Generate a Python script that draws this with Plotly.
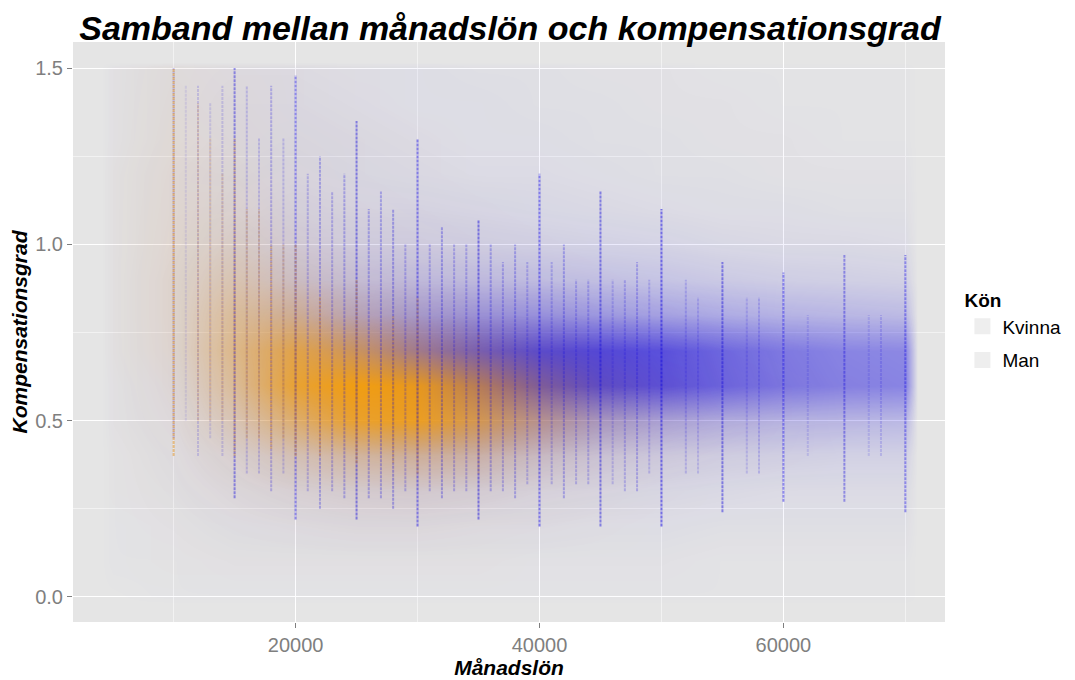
import plotly.graph_objects as go

# salary grid (cell centres) and compensation grid for the density
salary_grid = [4000, 5000, 10000, 15000, 20000, 25000, 30000, 35000, 40000, 45000,
               50000, 55000, 60000, 65000, 70000, 71000]
comp_grid = [-0.02, 0.0, 0.1, 0.2, 0.3, 0.4, 0.5, 0.6, 0.7, 0.8, 0.9, 1.0, 1.1, 1.2,
             1.3, 1.4, 1.5, 1.52]

# estimated point density, one row per comp_grid value (0 = empty, 1 = saturated)
density_man = [
    [0, 0.00, .00, .00, .00, .00, .00, .00, .00, .00, .00, .00, .00, .00, .00, 0],
    [0, 0.00, .01, .01, .01, .01, .01, .01, .01, .01, .01, .01, .01, .01, .01, 0],
    [0, 0.01, .01, .02, .02, .02, .02, .02, .02, .02, .02, .01, .01, .01, .01, 0],
    [0, 0.01, .02, .04, .05, .06, .06, .05, .05, .04, .04, .03, .03, .03, .03, 0],
    [0, 0.01, .03, .06, .09, .11, .12, .11, .09, .08, .07, .06, .05, .05, .05, 0],
    [0, 0.01, .04, .09, .15, .20, .24, .24, .20, .17, .14, .12, .11, .10, .10, 0],
    [0, 0.02, .05, .12, .22, .34, .45, .50, .48, .42, .36, .30, .26, .24, .23, 0],
    [0, 0.02, .06, .14, .30, .52, .72, .85, .88, .86, .80, .68, .58, .52, .50, 0],
    [0, 0.02, .06, .15, .32, .52, .68, .80, .85, .84, .78, .66, .56, .50, .48, 0],
    [0, 0.02, .06, .14, .26, .34, .40, .44, .44, .40, .35, .30, .26, .24, .22, 0],
    [0, 0.02, .06, .12, .18, .20, .22, .22, .21, .19, .17, .14, .12, .11, .10, 0],
    [0, 0.02, .05, .10, .13, .13, .13, .12, .11, .10, .09, .07, .06, .06, .05, 0],
    [0, 0.02, .05, .08, .10, .09, .09, .08, .07, .06, .05, .04, .04, .03, .03, 0],
    [0, 0.02, .05, .07, .08, .07, .06, .05, .05, .04, .03, .03, .02, .02, .02, 0],
    [0, 0.02, .04, .06, .07, .06, .05, .04, .04, .03, .03, .02, .02, .01, .01, 0],
    [0, 0.02, .04, .06, .06, .05, .04, .04, .03, .03, .02, .02, .01, .01, .01, 0],
    [0, 0.02, .04, .05, .05, .04, .04, .03, .03, .02, .02, .01, .01, .01, .01, 0],
    [0, 0.00, .00, .00, .00, .00, .00, .00, .00, .00, .00, .00, .00, .00, .00, 0],
]
density_kvinna = [
    [0, 0.00, .00, .00, .00, .00, .00, .00, .00, .00, .00, .00, .00, .00, .00, 0],
    [0, 0.00, .00, .00, .00, .00, .00, .00, .00, .00, .00, .00, .00, .00, .00, 0],
    [0, 0.00, .01, .01, .01, .01, .01, .01, .00, .00, .00, .00, .00, .00, .00, 0],
    [0, 0.00, .01, .02, .03, .04, .04, .03, .02, .01, .00, .00, .00, .00, .00, 0],
    [0, 0.01, .02, .05, .08, .10, .10, .08, .05, .03, .01, .00, .00, .00, .00, 0],
    [0, 0.01, .03, .10, .22, .32, .35, .28, .16, .08, .04, .02, .01, .00, .00, 0],
    [0, 0.01, .05, .22, .55, .85, .90, .68, .40, .18, .08, .04, .02, .01, .00, 0],
    [0, 0.01, .07, .35, .82, .98, .92, .65, .35, .15, .07, .03, .02, .01, .00, 0],
    [0, 0.02, .10, .42, .72, .62, .42, .25, .12, .06, .03, .02, .01, .00, .00, 0],
    [0, 0.02, .11, .35, .38, .22, .13, .07, .04, .02, .01, .00, .00, .00, .00, 0],
    [0, 0.02, .11, .24, .16, .08, .05, .03, .02, .01, .00, .00, .00, .00, .00, 0],
    [0, 0.02, .10, .15, .08, .04, .03, .02, .01, .00, .00, .00, .00, .00, .00, 0],
    [0, 0.02, .09, .10, .05, .03, .02, .01, .00, .00, .00, .00, .00, .00, .00, 0],
    [0, 0.02, .08, .07, .04, .02, .01, .00, .00, .00, .00, .00, .00, .00, .00, 0],
    [0, 0.01, .07, .05, .03, .02, .01, .00, .00, .00, .00, .00, .00, .00, .00, 0],
    [0, 0.01, .06, .04, .02, .01, .00, .00, .00, .00, .00, .00, .00, .00, .00, 0],
    [0, 0.01, .05, .03, .02, .01, .00, .00, .00, .00, .00, .00, .00, .00, .00, 0],
    [0, 0.00, .00, .00, .00, .00, .00, .00, .00, .00, .00, .00, .00, .00, .00, 0],
]

# round salaries that show up as vertical stripes: salary, top, bottom, strength
man_stripe_salary = [10000, 11000, 12000, 13000, 14000, 15000, 16000, 17000, 18000, 19000,
                     20000, 21000, 22000, 23000, 24000, 25000, 26000, 27000, 28000, 29000,
                     30000, 31000, 32000, 33000, 34000, 35000, 36000, 37000, 38000, 39000,
                     40000, 41000, 42000, 43000, 44000, 45000, 46000, 47000, 48000, 49000,
                     50000, 52000, 53000, 55000, 57000, 58000, 60000, 62000, 65000, 67000,
                     68000, 70000]
man_stripe_top = [1.50, 1.45, 1.45, 1.40, 1.45, 1.50, 1.45, 1.30, 1.45, 1.30,
                  1.48, 1.20, 1.25, 1.15, 1.20, 1.35, 1.10, 1.15, 1.10, 1.00,
                  1.30, 1.00, 1.05, 1.00, 1.00, 1.07, 1.00, 0.95, 1.00, 0.95,
                  1.20, 0.95, 1.00, 0.90, 0.90, 1.15, 0.90, 0.90, 0.95, 0.90,
                  1.10, 0.90, 0.85, 0.95, 0.85, 0.85, 0.92, 0.80, 0.97, 0.80,
                  0.80, 0.97]
man_stripe_bottom = [0.45, 0.50, 0.40, 0.45, 0.40, 0.28, 0.35, 0.35, 0.30, 0.35,
                     0.22, 0.30, 0.25, 0.30, 0.28, 0.22, 0.28, 0.28, 0.25, 0.30,
                     0.20, 0.30, 0.28, 0.30, 0.30, 0.22, 0.30, 0.30, 0.28, 0.32,
                     0.20, 0.32, 0.28, 0.32, 0.32, 0.20, 0.32, 0.30, 0.30, 0.35,
                     0.20, 0.35, 0.35, 0.24, 0.35, 0.35, 0.27, 0.40, 0.27, 0.40,
                     0.40, 0.24]
man_stripe_strength = [0.35, 0.15, 0.25, 0.20, 0.25, 0.70, 0.30, 0.30, 0.40, 0.30,
                       0.75, 0.35, 0.45, 0.40, 0.45, 0.75, 0.45, 0.45, 0.50, 0.40,
                       0.80, 0.40, 0.50, 0.40, 0.40, 0.80, 0.45, 0.40, 0.45, 0.35,
                       0.85, 0.35, 0.45, 0.35, 0.35, 0.75, 0.30, 0.35, 0.40, 0.30,
                       0.90, 0.30, 0.25, 0.75, 0.25, 0.30, 0.75, 0.20, 0.65, 0.20,
                       0.25, 0.70]

kvinna_stripe_salary = [10000, 12000, 13000, 14000, 15000, 16000, 17000, 18000, 19000,
                        20000, 22000, 25000, 28000, 30000, 35000]
kvinna_stripe_top = [1.50, 1.40, 1.30, 1.20, 1.30, 1.10, 1.10, 1.00, 1.00,
                     1.00, 0.85, 0.90, 0.80, 0.85, 0.75]
kvinna_stripe_bottom = [0.40, 0.50, 0.50, 0.50, 0.40, 0.45, 0.45, 0.42, 0.45,
                        0.40, 0.40, 0.38, 0.38, 0.35, 0.35]
kvinna_stripe_strength = [0.80, 0.30, 0.30, 0.30, 0.50, 0.40, 0.40, 0.50, 0.40,
                          0.60, 0.50, 0.55, 0.40, 0.50, 0.40]

x_tick_vals = [20000, 40000, 60000]
x_tick_text = ['20000', '40000', '60000']
y_tick_vals = [0.0, 0.5, 1.0, 1.5]
y_tick_text = ['0.0', '0.5', '1.0', '1.5']

FONT = 'Liberation Sans, Arial, sans-serif'

fig = go.Figure()

fig.add_trace(go.Heatmap(
    x=salary_grid, y=comp_grid, z=density_man, zmin=0, zmax=1, zsmooth='best',
    colorscale=[[0, 'rgba(35,25,225,0)'], [1, 'rgba(35,25,225,0.95)']],
    showscale=False, hoverinfo='skip'))

for s, top, bot, st in zip(man_stripe_salary, man_stripe_top, man_stripe_bottom, man_stripe_strength):
    fig.add_trace(go.Scatter(x=[s, s], y=[bot, top], mode='lines',
                             line=dict(color=f'rgba(20,10,220,{0.6 * st:.3f})', width=2,
                                       dash='3px,1px'),
                             showlegend=False, hoverinfo='skip'))

fig.add_trace(go.Heatmap(
    x=salary_grid, y=comp_grid, z=density_kvinna, zmin=0, zmax=1, zsmooth='best',
    colorscale=[[0, 'rgba(250,160,0,0)'], [1, 'rgba(250,160,0,0.95)']],
    showscale=False, hoverinfo='skip'))

for s, top, bot, st in zip(kvinna_stripe_salary, kvinna_stripe_top, kvinna_stripe_bottom, kvinna_stripe_strength):
    fig.add_trace(go.Scatter(x=[s, s], y=[bot, top], mode='lines',
                             line=dict(color=f'rgba(225,135,0,{0.55 * st:.3f})', width=2,
                                       dash='3px,1px'),
                             showlegend=False, hoverinfo='skip'))

# legend keys (almost invisible points on grey boxes, like the original)
for name in ['Kvinna', 'Man']:
    fig.add_trace(go.Scatter(x=[None], y=[None], mode='markers', name=name, legendgroup=name,
                             marker=dict(symbol='square', size=16, color='#EEEEEE')))

# the page body adds an 8px offset, so the margins are shifted to compensate
fig.update_layout(
    width=1075, height=680,
    margin=dict(l=65, r=138, t=34, b=66),
    paper_bgcolor='white', plot_bgcolor='#E5E5E5',
    font=dict(family=FONT, color='#7F7F7F'),
    title=dict(text='<b><i>Samband mellan månadslön och kompensationsgrad</i></b>',
               x=0.467, xanchor='center', y=0.97, yanchor='middle',
               font=dict(size=34, color='black', family=FONT)),
    legend=dict(title=dict(text='<b>Kön</b>', font=dict(size=19, color='black')),
                font=dict(size=19, color='black'),
                x=1.02, xanchor='left', y=0.585, yanchor='top',
                bgcolor='rgba(0,0,0,0)', itemsizing='trace', tracegroupgap=6),
)

fig.update_xaxes(
    range=[1750, 73250], tickvals=x_tick_vals, ticktext=x_tick_text, automargin=False,
    showgrid=True, gridcolor='white', gridwidth=1.3, zeroline=False, showline=False,
    ticks='outside', ticklen=5, tickcolor='#7F7F7F', tickfont=dict(size=20, color='#7F7F7F'),
    minor=dict(tickvals=[10000, 30000, 50000, 70000], showgrid=True, gridcolor='#F2F2F2',
               gridwidth=0.7, ticks=''),
    title=dict(text='<b><i>Månadslön</i></b>', font=dict(size=21, color='black'), standoff=2),
)
fig.update_yaxes(
    range=[-0.071, 1.574], tickvals=y_tick_vals, ticktext=y_tick_text, automargin=False,
    showgrid=True, gridcolor='white', gridwidth=1.3, zeroline=False, showline=False,
    ticks='outside', ticklen=5, tickcolor='#7F7F7F', tickfont=dict(size=20, color='#7F7F7F'),
    minor=dict(tickvals=[0.25, 0.75, 1.25], showgrid=True, gridcolor='#F2F2F2',
               gridwidth=0.7, ticks=''),
    title=dict(text='<b><i>Kompensationsgrad</i></b>', font=dict(size=21, color='black'), standoff=4),
)

fig.write_html('out.html')
